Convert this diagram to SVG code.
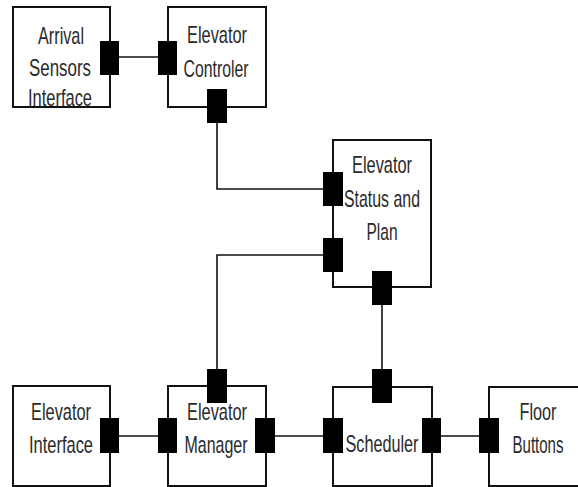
<svg xmlns="http://www.w3.org/2000/svg" width="578" height="487" viewBox="0 0 578 487">
<style>
.box{fill:#fff;stroke:#111;stroke-width:2}
.port{fill:#000}
.ln{fill:none;stroke:#111;stroke-width:1.6}
text{font-family:"Liberation Sans",Arial,sans-serif;font-size:24px;fill:#2a2a2a;text-anchor:middle}
</style>
<rect width="578" height="487" fill="#fff"/>
<g id="connectors">
<line class="ln" x1="119" y1="57" x2="158" y2="57" stroke-width="2.2"/>
<polyline class="ln" points="217,123 217,189 323,189"/>
<polyline class="ln" points="323,255 217,255 217,369"/>
<line class="ln" x1="382" y1="305" x2="382" y2="369"/>
<line class="ln" x1="119" y1="436" x2="158" y2="436" stroke-width="2.2"/>
<line class="ln" x1="275" y1="436" x2="323" y2="436" stroke-width="2.2"/>
<line class="ln" x1="441" y1="436" x2="479" y2="436" stroke-width="2.2"/>
</g>
<g id="arrival">
<rect class="box" x="13" y="7" width="97" height="100"/>
<text x="61" y="44" textLength="46" lengthAdjust="spacingAndGlyphs">Arrival</text>
<text x="60" y="76" textLength="62" lengthAdjust="spacingAndGlyphs">Sensors</text>
<text x="60" y="106" textLength="64" lengthAdjust="spacingAndGlyphs">Interface</text>
<rect class="port" x="100" y="41" width="19" height="34"/>
</g>
<g id="controller">
<rect class="box" x="168" y="7" width="98" height="100"/>
<text x="217" y="43" textLength="60" lengthAdjust="spacingAndGlyphs">Elevator</text>
<text x="216" y="77" textLength="65" lengthAdjust="spacingAndGlyphs">Controler</text>
<rect class="port" x="158" y="41" width="19" height="34"/>
<rect class="port" x="207" y="89" width="20" height="34"/>
</g>
<g id="status">
<rect class="box" x="333" y="140" width="98" height="147"/>
<text x="382" y="173" textLength="60" lengthAdjust="spacingAndGlyphs">Elevator</text>
<text x="382" y="207" textLength="76" lengthAdjust="spacingAndGlyphs">Status and</text>
<text x="382" y="240" textLength="31" lengthAdjust="spacingAndGlyphs">Plan</text>
<rect class="port" x="323" y="172" width="20" height="34"/>
<rect class="port" x="323" y="238" width="20" height="34"/>
<rect class="port" x="372" y="271" width="20" height="34"/>
</g>
<g id="interface">
<rect class="box" x="13" y="386" width="97" height="100"/>
<text x="61" y="420" textLength="60" lengthAdjust="spacingAndGlyphs">Elevator</text>
<text x="61" y="453" textLength="64" lengthAdjust="spacingAndGlyphs">Interface</text>
<rect class="port" x="100" y="418" width="19" height="35"/>
</g>
<g id="manager">
<rect class="box" x="168" y="386" width="98" height="100"/>
<text x="217" y="420" textLength="60" lengthAdjust="spacingAndGlyphs">Elevator</text>
<text x="216" y="453" textLength="63" lengthAdjust="spacingAndGlyphs">Manager</text>
<rect class="port" x="207" y="369" width="20" height="34"/>
<rect class="port" x="158" y="418" width="19" height="35"/>
<rect class="port" x="255" y="418" width="20" height="35"/>
</g>
<g id="scheduler">
<rect class="box" x="333" y="387" width="99" height="99"/>
<text x="382" y="452" textLength="73" lengthAdjust="spacingAndGlyphs">Scheduler</text>
<rect class="port" x="372" y="369" width="20" height="34"/>
<rect class="port" x="323" y="418" width="20" height="35"/>
<rect class="port" x="422" y="418" width="19" height="35"/>
</g>
<g id="floor">
<rect class="box" x="489" y="387" width="98" height="99"/>
<text x="538" y="420" textLength="37" lengthAdjust="spacingAndGlyphs">Floor</text>
<text x="538" y="453" textLength="51" lengthAdjust="spacingAndGlyphs">Buttons</text>
<rect class="port" x="479" y="418" width="20" height="35"/>
</g>
</svg>
